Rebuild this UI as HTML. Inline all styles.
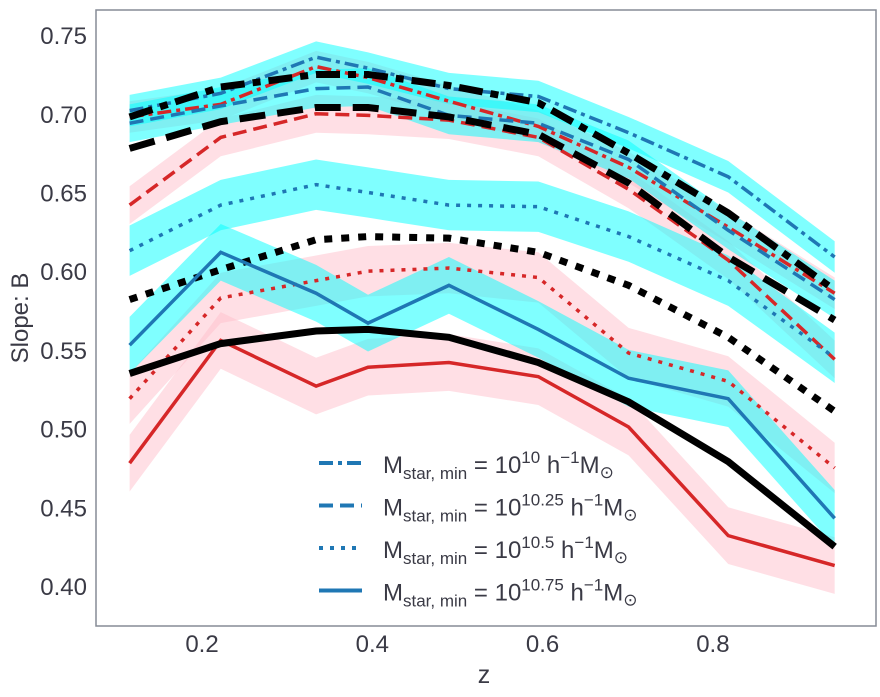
<!DOCTYPE html>
<html><head><meta charset="utf-8"><style>
html,body{margin:0;padding:0;background:#fff;}
svg{display:block;font-family:"Liberation Sans",sans-serif;}
</style></head><body>
<svg id="chart" width="880" height="697" xmlns="http://www.w3.org/2000/svg">
<g id="bands"></g>
<g id="lines"></g>
<rect x="96" y="10" width="780" height="616" fill="none" stroke="#868b95" stroke-width="1.5"/>
<g id="yticks"></g>
<g id="xticks"></g>
<text x="484" y="683" font-size="25" fill="#3a3a45" text-anchor="middle">z</text>
<text transform="translate(28,318) rotate(-90)" font-size="24" fill="#3a3a45" text-anchor="middle">Slope: B</text>
<g id="legend"></g>
</svg>
<script>
const zVals = [0.115, 0.222, 0.334, 0.395, 0.490, 0.595, 0.701, 0.818, 0.943];
const blueDashDot = [0.702,0.713,0.736,0.729,0.716,0.711,0.688,0.660,0.609];
const blueDashed = [0.694,0.705,0.716,0.717,0.699,0.694,0.671,0.626,0.582];
const blueDotted = [0.613,0.642,0.655,0.650,0.642,0.641,0.622,0.594,0.545];
const blueSolid = [0.553,0.612,0.586,0.567,0.591,0.563,0.532,0.519,0.443];
const redDashDot = [0.698,0.706,0.730,0.723,0.708,0.692,0.666,0.628,0.586];
const redDashed = [0.642,0.685,0.700,0.699,0.696,0.685,0.652,0.607,0.544];
const redDotted = [0.519,0.583,0.594,0.600,0.602,0.596,0.548,0.530,0.475];
const redSolid = [0.478,0.556,0.527,0.539,0.542,0.533,0.501,0.432,0.413];
const blackDashDot = [0.698,0.717,0.725,0.725,0.718,0.707,0.675,0.637,0.588];
const blackDashed = [0.678,0.695,0.704,0.704,0.698,0.687,0.656,0.609,0.569];
const blackDotted = [0.582,0.601,0.620,0.622,0.621,0.612,0.591,0.558,0.511];
const blackSolid = [0.535,0.554,0.562,0.563,0.558,0.542,0.517,0.479,0.425];
const bandHalf = [0.010,0.012,0.016,0.018];
const yTicks = [0.40,0.45,0.50,0.55,0.60,0.65,0.70,0.75];
const xTicks = [0.2,0.4,0.6,0.8];
const legendLabels = ["10","10.25","10.5","10.75"];

const NS="http://www.w3.org/2000/svg";
function X(z){return 202+(z-0.2)*851.5;}
function Y(v){return 586-(v-0.40)*1574;}
function mk(tag,attrs,parent){const e=document.createElementNS(NS,tag);for(const k in attrs)e.setAttribute(k,attrs[k]);parent.appendChild(e);return e;}
const bands=document.getElementById('bands'), lines=document.getElementById('lines');
const styles=["14,5,4,5","14,7","4,7",""];
const bStyles=["24,8,8,8","26,12","8,9",""];
const blues=[blueDashDot,blueDashed,blueDotted,blueSolid];
const reds=[redDashDot,redDashed,redDotted,redSolid];
const blacks=[blackDashDot,blackDashed,blackDotted,blackSolid];
const names=["10","10-25","10-5","10-75"];
function band(arr,h,color,name){
  let up=arr.map((v,i)=>X(zVals[i])+","+Y(v+h));
  let dn=arr.map((v,i)=>X(zVals[i])+","+Y(v-h)).reverse();
  const p=mk('polygon',{points:up.concat(dn).join(' '),fill:color,'fill-opacity':0.5,stroke:'none'},bands);
  
  
}
function line(arr,color,w,dash,name){
  const p=mk('polyline',{points:arr.map((v,i)=>X(zVals[i])+","+Y(v)).join(' '),fill:'none',stroke:color,'stroke-width':w,'stroke-dasharray':dash},lines);
  
  
}
for(let k=0;k<4;k++){
  band(reds[k],bandHalf[k],'#ffc0cb','red-band-'+names[k]);
  band(blues[k],bandHalf[k],'#00ffff','cyan-band-'+names[k]);
}
for(let k=0;k<4;k++){
  line(reds[k],'#d62728',3.5,styles[k],'red-line-'+names[k]);
  line(blues[k],'#1f77b4',3.5,styles[k],'blue-line-'+names[k]);
  line(blacks[k],'#000',7,bStyles[k],'black-line-'+names[k]);
}
const yt=document.getElementById('yticks');
yTicks.forEach(v=>{
  const t=mk('text',{x:87,y:Y(v)+9,'font-size':24,fill:'#3a3a45','text-anchor':'end'},yt);
  t.textContent=v.toFixed(2);
  
  
});
const xt=document.getElementById('xticks');
xTicks.forEach(v=>{
  const t=mk('text',{x:X(v),y:652,'font-size':24,fill:'#3a3a45','text-anchor':'middle'},xt);
  t.textContent=v.toFixed(1);
  
  
});
const lg=document.getElementById('legend');
legendLabels.forEach((lab,i)=>{
  const y=463+i*42.5;
  const g=mk('g',{},lg);
  
  
  mk('line',{x1:319,x2:362,y1:y,y2:y,stroke:'#1f77b4','stroke-width':4,'stroke-dasharray':styles[i]},g);
  const t=mk('text',{x:383,y:y+10,'font-size':24,fill:'#3a3a45'},g);
  t.innerHTML='M<tspan font-size="17" dy="6">star, min</tspan><tspan dy="-6"> = 10</tspan><tspan font-size="17" dy="-10">'+lab+'</tspan><tspan dy="10"> h</tspan><tspan font-size="17" dy="-10">−1</tspan><tspan dy="10">M</tspan><tspan font-size="17" dy="5">⊙</tspan>';
});
</script>
</body></html>
